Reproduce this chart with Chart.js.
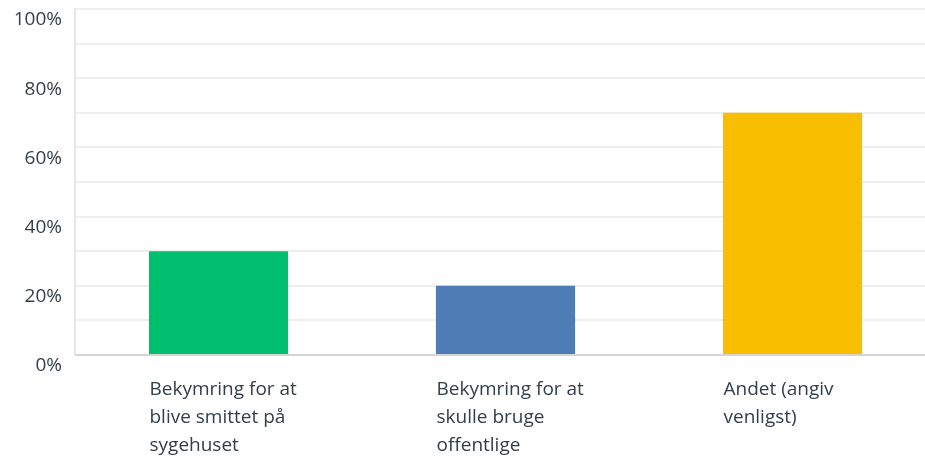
<!DOCTYPE html>
<html>
<head>
<meta charset="utf-8">
<script src="https://cdn.jsdelivr.net/npm/chart.js@4/dist/chart.umd.min.js"></script>
<style>
html,body{margin:0;padding:0;overflow:hidden;background:#fff;}
#wrap{width:936px;height:460px;position:relative;}
</style>
</head>
<body>
<div id="wrap"><canvas id="c"></canvas></div>
<script>
const categories = [
  ["Bekymring for at", "blive smittet på", "sygehuset"],
  ["Bekymring for at", "skulle bruge", "offentlige"],
  ["Andet (angiv", "venligst)"]
];
const values = [30, 20, 70];
const barColors = ["#00BF6F", "#507CB6", "#F9BE00"];
const yTickLabels = {0: "0%", 20: "20%", 40: "40%", 60: "60%", 80: "80%", 100: "100%"};

const font = "'Open Sans', 'DejaVu Sans', sans-serif";
new Chart(document.getElementById('c'), {
  type: 'bar',
  data: {
    labels: categories,
    datasets: [{
      data: values,
      backgroundColor: barColors,
      borderWidth: 0,
      barPercentage: 0.97,
      categoryPercentage: 0.5
    }]
  },
  options: {
    responsive: true,
    maintainAspectRatio: false,
    animation: false,
    layout: {padding: {top: 9, right: 0, left: 0, bottom: 0}},
    plugins: {legend: {display: false}, tooltip: {enabled: false}},
    scales: {
      x: {
        grid: {display: false, drawTicks: false},
        border: {display: true, color: '#d5d5d5', width: 2},
        ticks: {
          align: 'start',
          labelOffset: -69,
          padding: 21,
          maxRotation: 0,
          autoSkip: false,
          color: '#333e48',
          font: {family: font, size: 19, lineHeight: 1.47}
        },
        afterFit: (s) => { s.height = 105; s.paddingLeft = 0; s.paddingRight = 0; }
      },
      y: {
        min: 0, max: 100,
        grid: {color: (ctx) => ctx.tick && ctx.tick.value === 0 ? '#d5d5d5' : '#eeeeee', lineWidth: 2, drawTicks: false},
        border: {display: true, color: '#e6e6e6', width: 2},
        ticks: {
          stepSize: 10,
          padding: 13,
          labelOffset: 11,
          color: '#333e48',
          font: {family: font, size: 19},
          callback: (v) => yTickLabels[v] !== undefined ? yTickLabels[v] : ''
        },
        afterFit: (s) => { s.width = 75; s.paddingTop = 0; s.paddingBottom = 0; }
      }
    }
  }
});
</script>
</body>
</html>
